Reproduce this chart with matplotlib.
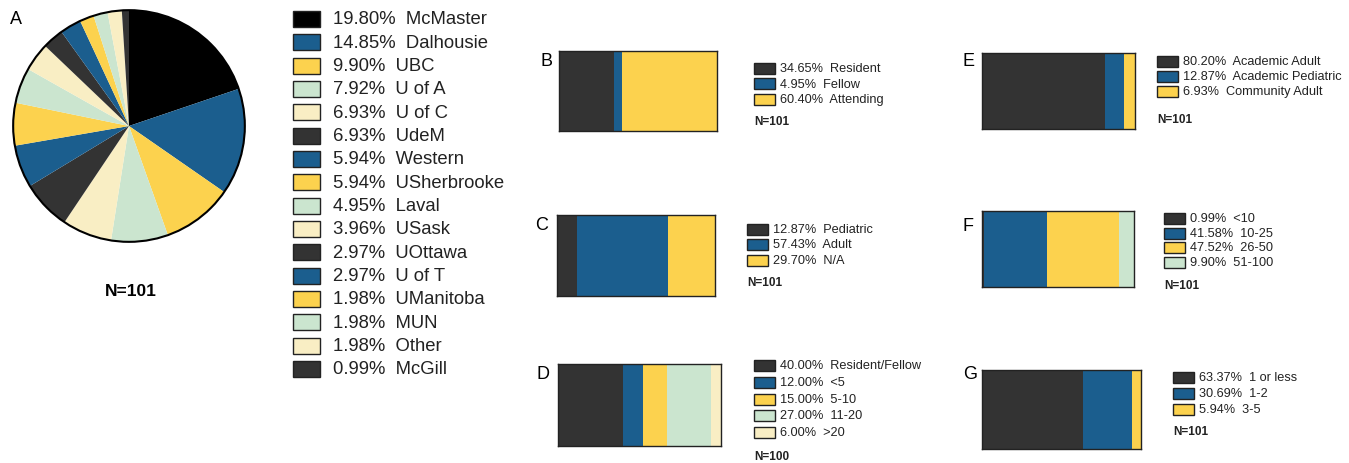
import matplotlib
matplotlib.use("Agg")
import matplotlib.pyplot as plt
import matplotlib.patches as patches

plt.rcParams['font.family'] = ['Liberation Sans', 'DejaVu Sans']

# palette used throughout the figure
BLACK = '#000000'
DARK = '#333333'
BLUE = '#1b5e8e'
YELLOW = '#fcd24e'
MINT = '#cbe5cf'
CREAM = '#f9eec4'

# Panel A - site distribution
sites = ['McMaster', 'Dalhousie', 'UBC', 'U of A', 'U of C', 'UdeM', 'Western',
         'USherbrooke', 'Laval', 'USask', 'UOttawa', 'U of T', 'UManitoba',
         'MUN', 'Other', 'McGill']
site_pct = [19.80, 14.85, 9.90, 7.92, 6.93, 6.93, 5.94, 5.94, 4.95, 3.96,
            2.97, 2.97, 1.98, 1.98, 1.98, 0.99]
site_colors = [BLACK] + [BLUE, YELLOW, MINT, CREAM, DARK] * 3

# Panels B-G - stacked single bars
b_labels = ['Resident', 'Fellow', 'Attending']
b_pct = [34.65, 4.95, 60.40]
c_labels = ['Pediatric', 'Adult', 'N/A']
c_pct = [12.87, 57.43, 29.70]
d_labels = ['Resident/Fellow', '<5', '5-10', '11-20', '>20']
d_pct = [40.00, 12.00, 15.00, 27.00, 6.00]
e_labels = ['Academic Adult', 'Academic Pediatric', 'Community Adult']
e_pct = [80.20, 12.87, 6.93]
f_labels = ['<10', '10-25', '26-50', '51-100']
f_pct = [0.99, 41.58, 47.52, 9.90]
g_labels = ['1 or less', '1-2', '3-5']
g_pct = [63.37, 30.69, 5.94]

bar_colors = [DARK, BLUE, YELLOW, MINT, CREAM]

W, H = 1349, 464
fig = plt.figure(figsize=(W / 100, H / 100), dpi=100)


def fx(x):
    return x / W


def fy(y):
    return 1 - y / H


def px_axes(x0, y0, x1, y1):
    # axes from pixel box (top-left origin)
    return fig.add_axes([fx(x0), fy(y1), (x1 - x0) / W, (y1 - y0) / H])


def legend(x, ys, colors, texts, sw_w, sw_h, text_dx, size):
    for y, c, t in zip(ys, colors, texts):
        r = patches.Rectangle((fx(x), fy(y + sw_h / 2)), sw_w / W, sw_h / H,
                              transform=fig.transFigure, facecolor=c,
                              edgecolor='#222222', linewidth=1.0)
        fig.add_artist(r)
        fig.text(fx(x + sw_w + text_dx), fy(y), t, fontsize=size,
                 va='center', ha='left', color='#222222')


# ---- Panel A pie
ax = px_axes(12, 10, 246, 244)
ax.pie(site_pct, colors=site_colors, startangle=90, counterclock=False,
       radius=1, wedgeprops=dict(linewidth=0))
ax.add_patch(patches.Circle((0, 0), 1, fill=False, edgecolor='black', linewidth=1.5))
ax.set_xlim(-1.01, 1.01)
ax.set_ylim(-1.01, 1.01)
ax.set_aspect('equal')
ax.axis('off')
fig.text(fx(10), fy(19), 'A', fontsize=13, va='center', ha='left')
fig.text(fx(131), fy(291), 'N=101', fontsize=12.5, fontweight='bold',
         va='center', ha='center')

rows = [20 + i * 23.33 for i in range(len(sites))]
legend(293, rows, site_colors,
       ['%.2f%%  %s' % (p, s) for p, s in zip(site_pct, sites)],
       27, 16, 13, 13.3)

# ---- Panels B-G bars
panels = [
    ('B', b_labels, b_pct, (559, 52, 717, 132), (540, 62), 754, [69, 84.5, 100], 122),
    ('C', c_labels, c_pct, (557, 216, 715, 297), (535, 226), 747, [230, 245.5, 261.5], 283),
    ('D', d_labels, d_pct, (558, 365, 721, 447), (537, 375), 754, [366, 383, 400, 416.5, 433], 457),
    ('E', e_labels, e_pct, (982, 54, 1135, 130), (963, 61), 1157, [62, 77, 92], 120),
    ('F', f_labels, f_pct, (982, 212, 1134, 288), (963, 227), 1164, [219, 234, 248.5, 263], 286),
    ('G', g_labels, g_pct, (982, 371, 1141, 450), (963, 375), 1173, [378, 394, 410], 432),
]

for letter, labels, pct, box, lpos, lx, lys, ny in panels:
    ax = px_axes(*box)
    left = 0
    for p, c in zip(pct, bar_colors):
        ax.barh(0.5, p, left=left, height=1, color=c, linewidth=0)
        left += p
    ax.set_xlim(0, 100)
    ax.set_ylim(0, 1)
    ax.set_xticks([])
    ax.set_yticks([])
    for s in ax.spines.values():
        s.set_linewidth(1.0)
        s.set_color('#222222')
    fig.text(fx(lpos[0]), fy(lpos[1]), letter, fontsize=13, va='center', ha='left')
    legend(lx, lys, bar_colors[:len(pct)],
           ['%.2f%%  %s' % (p, l) for p, l in zip(pct, labels)],
           21, 11, 5, 9.2)
    fig.text(fx(lx), fy(ny), 'N=%d' % (100 if letter == 'D' else 101),
             fontsize=8.5, fontweight='bold', va='center', ha='left', color='#222222')

fig.savefig('out.png', dpi=100)
